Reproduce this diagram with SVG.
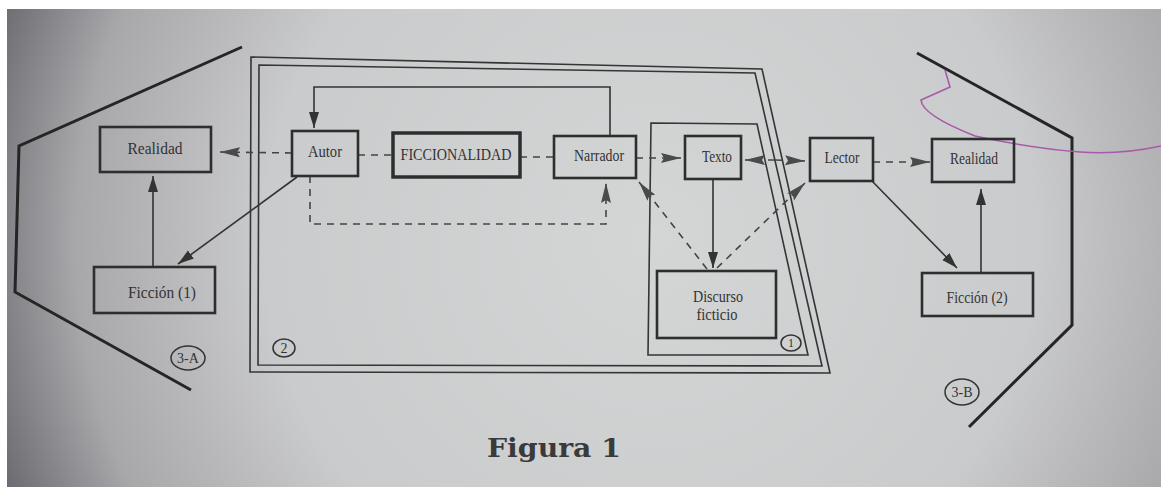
<svg xmlns="http://www.w3.org/2000/svg" width="1161" height="487" viewBox="0 0 1161 487">
<defs>
<radialGradient id="bg" gradientUnits="userSpaceOnUse" cx="650" cy="240" r="700">
<stop offset="0" stop-color="#d4d5d5"/>
<stop offset="0.55" stop-color="#cacbcc"/>
<stop offset="0.82" stop-color="#a8a7aa"/>
<stop offset="1" stop-color="#66656b"/>
</radialGradient>
<marker id="ah" markerUnits="userSpaceOnUse" markerWidth="18" markerHeight="12" refX="16" refY="5" orient="auto">
<path d="M0,0 L16,5 L0,10 Z" fill="#333"/>
</marker>
<marker id="ahd" markerUnits="userSpaceOnUse" markerWidth="22" markerHeight="12" refX="20" refY="5" orient="auto">
<path d="M0,0 L20,5 L0,10 L3,5 Z" fill="#4a4a4a"/>
</marker>
</defs>
<style>
.box{fill:none;stroke:#2e2e2e;stroke-width:2.6}
.lbl{font-family:"Liberation Serif","Times New Roman",serif;font-size:16px;fill:#333;text-anchor:middle}
.frame{fill:none;stroke:#353535;stroke-width:1.6}
.outline{fill:none;stroke:#252525;stroke-width:3}
.solid{fill:none;stroke:#333;stroke-width:1.6}
.dash{fill:none;stroke:#444;stroke-width:1.6;stroke-dasharray:7 6}
.circ{fill:none;stroke:#333;stroke-width:1.5}
.num{font-family:"Liberation Serif","Times New Roman",serif;font-size:14px;fill:#333;text-anchor:middle}
</style>
<rect width="1161" height="487" fill="#ffffff"/>
<rect x="7" y="9" width="1154" height="478" fill="url(#bg)"/>

<g id="outline-3A">
<polyline class="outline" points="242,47 19,146 15,292 191,390"/>
<ellipse class="circ" cx="188" cy="358" rx="17" ry="12"/>
<text class="num" x="188" y="363">3-A</text>
</g>
<g id="outline-3B">
<polyline class="outline" points="917,53 1072,138 1072,325 969,427"/>
<ellipse class="circ" cx="962" cy="392" rx="17" ry="13"/>
<text class="num" x="962" y="397">3-B</text>
</g>
<path d="M945,70 L950,87 L921,100 Q922,115 975,136 Q1030,148 1080,152 Q1120,155 1161,146" fill="none" stroke="#a85aa8" stroke-width="1.6"/>

<g id="frame-2">
<polygon class="frame" points="251,57 762,69 830,373 250,372"/>
<polygon class="frame" points="259,65 755,73 822,366 258,365"/>
<ellipse class="circ" cx="284" cy="348" rx="11" ry="9"/>
<text class="num" x="284" y="353">2</text>
</g>
<g id="frame-1">
<polygon class="frame" points="651,123 757,124 808,355 648,355"/>
<ellipse class="circ" cx="791" cy="343" rx="10" ry="8"/>
<text class="num" x="791" y="347" style="font-size:12px">1</text>
</g>

<g id="connectors">
<path class="dash" d="M292,153 L220,152" marker-end="url(#ahd)"/>
<path class="dash" d="M358,155 L393,155"/>
<path class="dash" d="M520,157 L554,157"/>
<path class="dash" d="M636,158 L681,158" marker-end="url(#ahd)"/>
<path class="dash" d="M775,160 L745,160" marker-end="url(#ahd)"/>
<path class="dash" d="M775,160 L805,161" marker-end="url(#ahd)"/>
<path class="dash" d="M873,162 L930,162" marker-end="url(#ahd)"/>
<path class="solid" d="M610,136 L610,87 L314,87 L314,128" marker-end="url(#ah)"/>
<path class="dash" d="M310,176 L310,224 L606,224 L606,183" marker-end="url(#ahd)"/>
<path class="solid" d="M297,177 L178,264" marker-end="url(#ah)"/>
<path class="solid" d="M153,267 L153,176" marker-end="url(#ah)"/>
<path class="solid" d="M713,179 L713,268" marker-end="url(#ah)"/>
<path class="dash" d="M707,269 L639,182" marker-end="url(#ahd)"/>
<path class="dash" d="M717,268 L805,183" marker-end="url(#ahd)"/>
<path class="solid" d="M872,181 L957,268" marker-end="url(#ah)"/>
<path class="solid" d="M981,273 L981,189" marker-end="url(#ah)"/>
</g>

<g id="realidad-1"><rect class="box" x="100" y="127" width="111" height="45"/><text class="lbl" x="155" y="154" textLength="55" lengthAdjust="spacingAndGlyphs">Realidad</text></g>
<g id="autor"><rect class="box" x="292" y="131" width="66" height="45"/><text class="lbl" x="325" y="157" textLength="34" lengthAdjust="spacingAndGlyphs">Autor</text></g>
<g id="ficcionalidad"><rect class="box" x="393" y="133" width="127" height="44" style="stroke-width:3.5"/><text class="lbl" x="456" y="160" textLength="111" lengthAdjust="spacingAndGlyphs">FICCIONALIDAD</text></g>
<g id="narrador"><rect class="box" x="554" y="136" width="82" height="42"/><text class="lbl" x="599" y="161" textLength="50" lengthAdjust="spacingAndGlyphs">Narrador</text></g>
<g id="texto"><rect class="box" x="685" y="136" width="56" height="43"/><text class="lbl" x="717" y="162" textLength="30" lengthAdjust="spacingAndGlyphs">Texto</text></g>
<g id="lector"><rect class="box" x="810" y="138" width="63" height="43"/><text class="lbl" x="842" y="163" textLength="35" lengthAdjust="spacingAndGlyphs">Lector</text></g>
<g id="realidad-2"><rect class="box" x="932" y="139" width="82" height="43"/><text class="lbl" x="974" y="164" textLength="48" lengthAdjust="spacingAndGlyphs">Realidad</text></g>
<g id="ficcion-1"><rect class="box" x="94" y="267" width="121" height="46"/><text class="lbl" x="162" y="298" textLength="68" lengthAdjust="spacingAndGlyphs">Ficción (1)</text></g>
<g id="ficcion-2"><rect class="box" x="922" y="273" width="111" height="43"/><text class="lbl" x="977" y="303" textLength="61" lengthAdjust="spacingAndGlyphs">Ficción (2)</text></g>
<g id="discurso-ficticio"><rect class="box" x="657" y="271" width="119" height="67"/><text class="lbl" x="718" y="302" textLength="50" lengthAdjust="spacingAndGlyphs">Discurso</text><text class="lbl" x="717" y="320" textLength="41" lengthAdjust="spacingAndGlyphs">ficticio</text></g>

<text x="554" y="457" text-anchor="middle" font-family="'DejaVu Serif','Liberation Serif',serif" font-weight="bold" font-size="26" fill="#3a3a3a" textLength="134" lengthAdjust="spacingAndGlyphs">Figura 1</text>
</svg>
